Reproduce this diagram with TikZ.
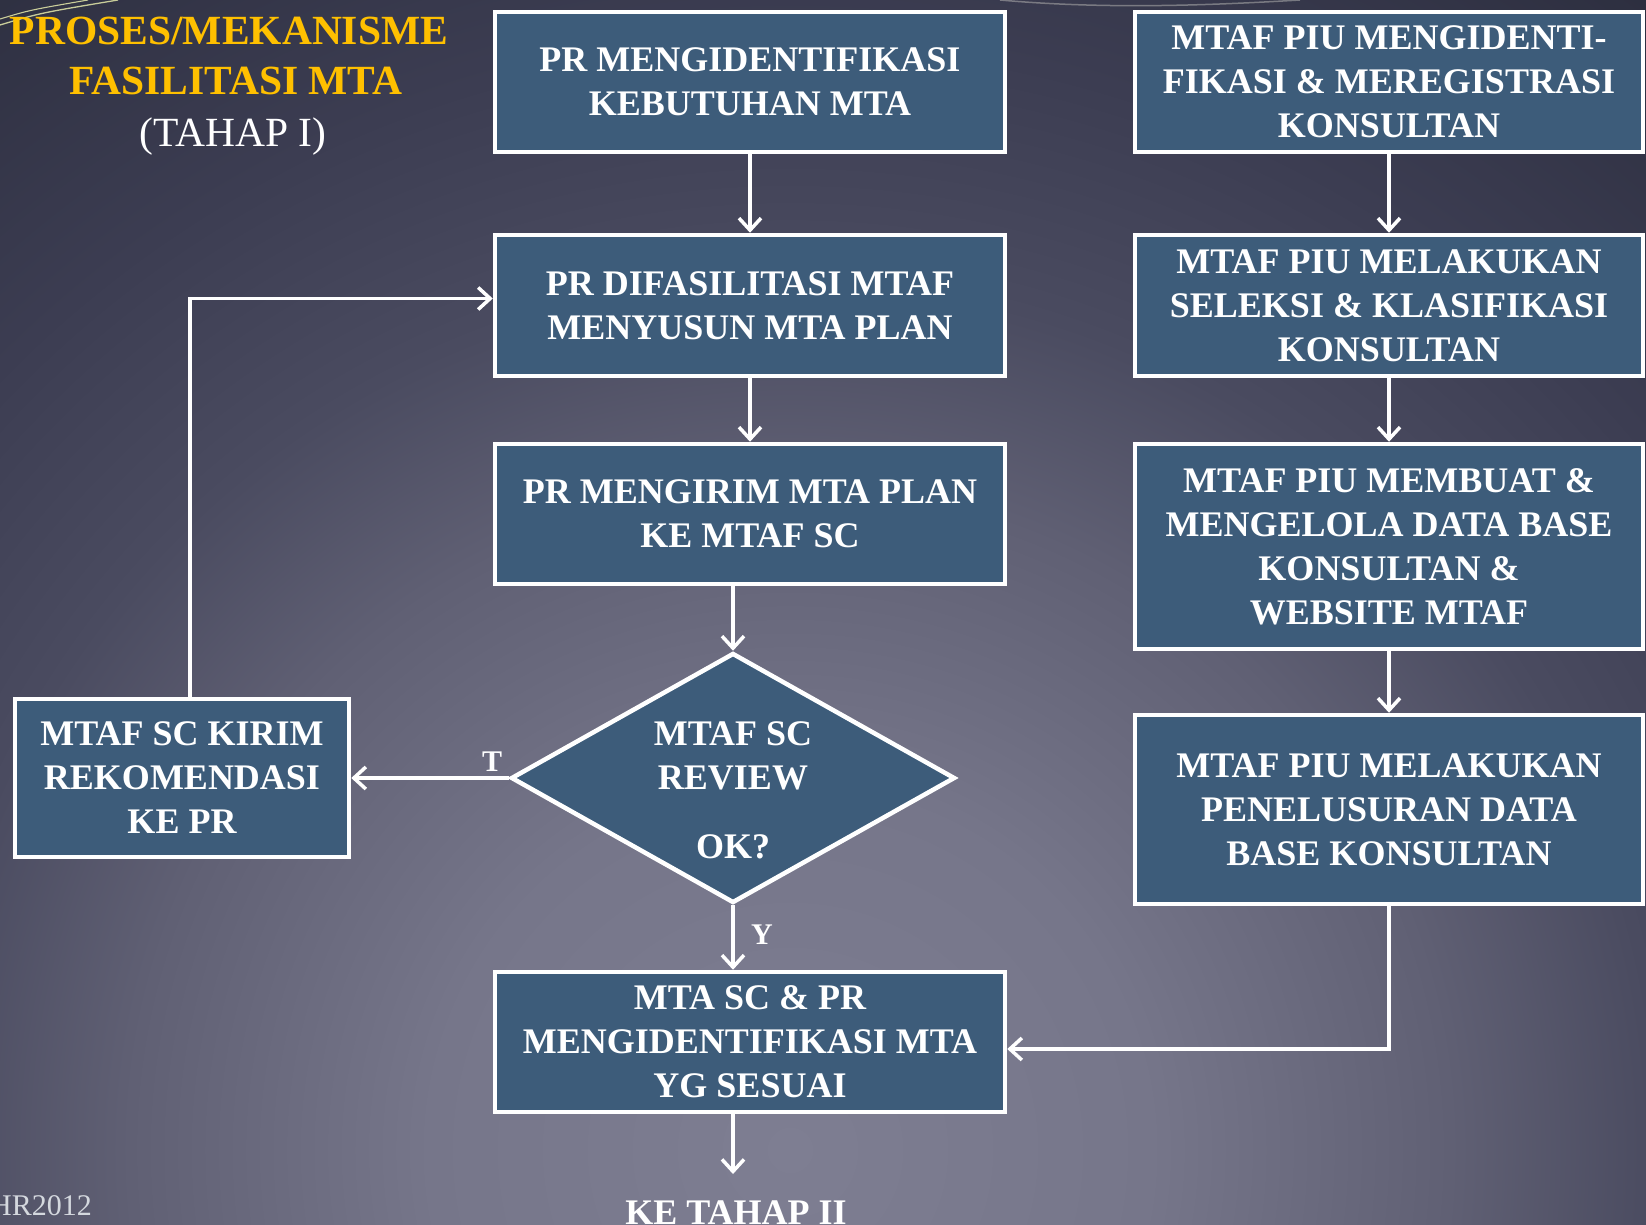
\documentclass[tikz,border=0pt]{standalone}
\usepackage{fontspec}
\setmainfont{Liberation Serif}
\usetikzlibrary{arrows.meta,shapes.geometric,calc}
\definecolor{boxfill}{HTML}{3D5C7A}
\definecolor{gold}{HTML}{FFC000}
\definecolor{bgA}{HTML}{7E7E92}
\definecolor{bgB}{HTML}{76768A}
\definecolor{bgC}{HTML}{606074}
\definecolor{bgD}{HTML}{4A4B60}
\definecolor{bgE}{HTML}{3C3D52}
\definecolor{bgF}{HTML}{2A2C3C}
\definecolor{footgray}{HTML}{D4D8DE}
\definecolor{decoline}{HTML}{C9CD9A}
\pgfdeclareradialshading{bgshade}{\pgfpoint{0bp}{0bp}}{color(0bp)=(bgA); color(6bp)=(bgB); color(11bp)=(bgC); color(14.5bp)=(bgD); color(18.5bp)=(bgE); color(25bp)=(bgF); color(50bp)=(bgF)}
\newcommand\boxfont{\fontsize{36}{44}\selectfont\bfseries}
\newcommand\titlefont{\fontsize{41.5}{51}\selectfont}
\begin{document}
\begin{tikzpicture}[x=1pt,y=-1pt,
  box/.style={draw=white, line width=4.5pt, fill=boxfill, text=white, align=center,
    inner sep=0pt, font=\boxfont},
  decision/.style={draw=white, line width=4.5pt, fill=boxfill, shape=diamond, inner sep=0pt},
  arr/.style={draw=white, line width=3.5pt, -{Straight Barb[length=12pt,width=22pt]}},
  lbl/.style={text=white, font=\fontsize{30}{36}\selectfont\bfseries, inner sep=0pt}]
\useasboundingbox (0,0) rectangle (1646,1225);
\begin{scope}
  \clip (0,0) rectangle (1646,1225);
  \fill[bgF] (0,0) rectangle (1646,1225);
  \shade[shading=bgshade] (790,1150) circle (1500pt);
  \draw[decoline, line width=1.3pt] (0,25) .. controls (40,13) .. (118,0);
  \draw[decoline, line width=1.1pt] (0,19) .. controls (30,10) .. (88,0);
  \draw[gray!70, line width=1.5pt, opacity=0.6] (1000,0) .. controls (1100,9) and (1200,6) .. (1300,0);
\end{scope}

% title
\node[anchor=base, text=gold, font=\titlefont\bfseries, inner sep=0pt] (title1) at (229,45) {PROSES/MEKANISME};
\node[anchor=base, text=gold, font=\titlefont\bfseries, inner sep=0pt] (title2) at (236,95) {FASILITASI MTA};
\node[anchor=base, text=white, font=\titlefont, inner sep=0pt] (title3) at (233,147) {(TAHAP I)};

% main column
\node[box, minimum width=510pt, minimum height=140pt] (A) at (750,82)
  {PR MENGIDENTIFIKASI\\KEBUTUHAN MTA};
\node[box, minimum width=510pt, minimum height=141pt] (B) at (750,305.5)
  {PR DIFASILITASI MTAF\\MENYUSUN MTA PLAN};
\node[box, minimum width=510pt, minimum height=140pt] (C) at (750,514)
  {PR MENGIRIM MTA PLAN\\KE MTAF SC};
\node[decision, minimum width=444pt, minimum height=250pt] (dia) at (733,778) {};
\node[text=white, align=center, inner sep=0pt, font=\boxfont] (dtext) at (733,790)
  {MTAF SC\\REVIEW\\[25pt]OK?};
\node[box, minimum width=510pt, minimum height=140pt] (D) at (750,1042)
  {MTA SC \& PR\\MENGIDENTIFIKASI MTA\\YG SESUAI};
\node[anchor=base, text=white, font=\boxfont, inner sep=0pt] (ke) at (736,1224) {KE TAHAP II};
\coordinate (keend) at (733,1174);

% left box
\node[box, minimum width=334pt, minimum height=158pt] (E) at (182,778)
  {MTAF SC KIRIM\\REKOMENDASI\\KE PR};

% right column
\node[box, minimum width=508pt, minimum height=140pt] (R1) at (1389,82)
  {MTAF PIU MENGIDENTI-\\FIKASI \& MEREGISTRASI\\KONSULTAN};
\node[box, minimum width=508pt, minimum height=141pt] (R2) at (1389,305.5)
  {MTAF PIU MELAKUKAN\\SELEKSI \& KLASIFIKASI\\KONSULTAN};
\node[box, minimum width=508pt, minimum height=205pt] (R3) at (1389,546.5)
  {MTAF PIU MEMBUAT \&\\MENGELOLA DATA BASE\\KONSULTAN \&\\WEBSITE MTAF};
\node[box, minimum width=508pt, minimum height=189pt] (R4) at (1389,809.5)
  {MTAF PIU MELAKUKAN\\PENELUSURAN DATA\\BASE KONSULTAN};

% connectors
\draw[arr] (A) -- (B);
\draw[arr] (B) -- (C);
\draw[arr] (C.south -| dia.north) -- (dia.north);
\draw[arr] (dia.south) -- (dia.south |- D.north);
\draw[arr] (D.south -| keend) -- (keend);
\draw[arr] (dia.west) -- (E.east);
\draw[arr] ([xshift=8pt]E.north) |- ([yshift=7pt]B.west);
\draw[arr] (R1) -- (R2);
\draw[arr] (R2) -- (R3);
\draw[arr] (R3) -- (R4);
\draw[arr] (R4.south) |- ([yshift=-7pt]D.east);

% labels
\node[lbl] (tlabel) at (492,762) {T};
\node[lbl] (ylabel) at (762,935) {Y};

% footer
\node[anchor=base west, text=footgray, font=\fontsize{30}{36}\selectfont, inner sep=0pt] (foot) at (-10,1215) {HR2012};
\end{tikzpicture}
\end{document}
